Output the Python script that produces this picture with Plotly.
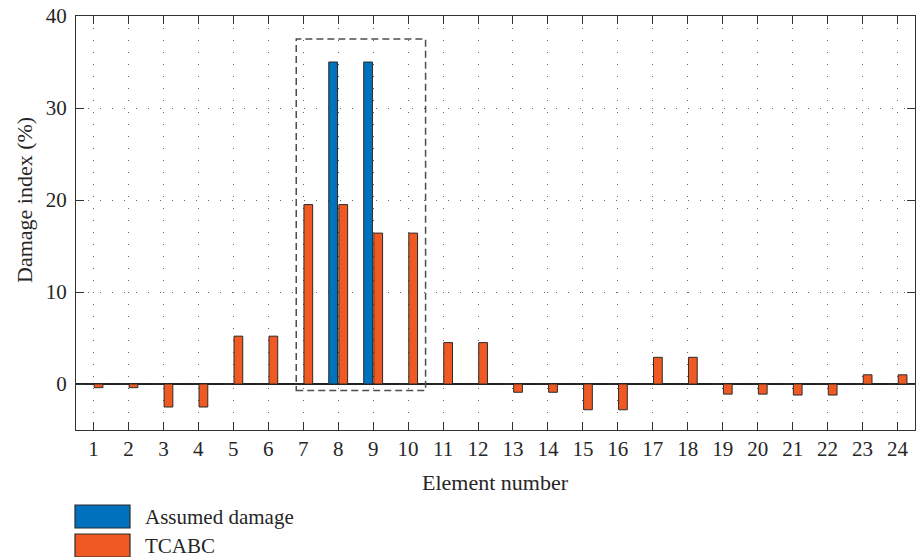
import plotly.graph_objects as go

# Element-wise damage indices (%)
elements = list(range(1, 25))
series_names = ["Assumed damage", "TCABC"]
assumed_damage = [0, 0, 0, 0, 0, 0, 0, 35, 35, 0, 0, 0,
                  0, 0, 0, 0, 0, 0, 0, 0, 0, 0, 0, 0]
tcabc = [-0.4, -0.4, -2.5, -2.5, 5.2, 5.2, 19.5, 19.5, 16.4, 16.4, 4.5, 4.5,
         -0.9, -0.9, -2.8, -2.8, 2.9, 2.9, -1.1, -1.1, -1.2, -1.2, 1.0, 1.0]
y_ticks = [0, 10, 20, 30, 40]

# Region of interest around the damaged elements
box_x = [6.8, 10.5]
box_y = [-0.7, 37.5]

colors = ["#0072BD", "#F05A22"]
font_family = "Liberation Serif, Times New Roman, serif"
text_color = "#262626"
edge = "#2b2b2b"

fig = go.Figure()
for name, vals, col, off in zip(series_names, [assumed_damage, tcabc], colors, [-0.27, 0.02]):
    fig.add_trace(go.Bar(
        x=elements, y=vals, name=name, width=0.25, offset=off,
        marker=dict(color=col, line=dict(color=edge, width=1)),
        showlegend=False,
    ))

# Dashed rectangle highlighting elements 7-10
fig.add_shape(type="rect", xref="x", yref="y",
              x0=box_x[0], x1=box_x[1], y0=box_y[0], y1=box_y[1],
              line=dict(color="#4d4d4d", width=1.5, dash="7px,4px"),
              fillcolor="rgba(0,0,0,0)", layer="above")

# Legend drawn below the axes with wide swatches
L, R, T, B = 76, 5, 16, 127
W, H = 920 - L - R, 557 - T - B
def px_x(p):
    return (p - L) / W
def px_y(p):
    return (557 - B - p) / H

swatch_rows = [(505, 528), (534, 557)]
for (top, bot), col, name in zip(swatch_rows, colors, series_names):
    fig.add_shape(type="rect", xref="paper", yref="paper",
                  x0=px_x(75), x1=px_x(130), y0=px_y(bot), y1=px_y(top),
                  fillcolor=col, line=dict(color=edge, width=1.2))
    fig.add_annotation(xref="paper", yref="paper", x=px_x(143), y=px_y((top + bot) / 2),
                       text=name, showarrow=False, xanchor="left", yanchor="middle",
                       font=dict(family=font_family, size=21, color=text_color))

# Axis titles
fig.add_annotation(xref="paper", yref="paper", x=0.5, y=px_y(482),
                   text="Element number", showarrow=False, xanchor="center", yanchor="middle",
                   font=dict(family=font_family, size=22, color=text_color))
fig.add_annotation(xref="paper", yref="y", x=px_x(24), y=20,
                   text="Damage index (%)", showarrow=False, textangle=-90,
                   xanchor="center", yanchor="middle",
                   font=dict(family=font_family, size=22, color=text_color))

axis_common = dict(
    showline=True, linecolor="#333333", linewidth=1.2, mirror="ticks",
    ticks="inside", ticklen=8, tickwidth=1, tickcolor="#333333",
    showgrid=True, gridcolor="#666666", gridwidth=1, griddash="1px,11px",
    tickfont=dict(family=font_family, size=21, color=text_color),
)

fig.update_xaxes(range=[0.5, 24.5], tickmode="array", tickvals=elements,
                 ticktext=[str(e) for e in elements], zeroline=False,
                 **axis_common)
fig.update_yaxes(range=[-5, 40], tickmode="array", tickvals=y_ticks,
                 ticktext=[str(t) for t in y_ticks],
                 zeroline=True, zerolinecolor="#222222", zerolinewidth=2,
                 ticklabelstandoff=4,
                 **axis_common)

fig.update_layout(
    width=920, height=557,
    margin=dict(l=L, r=R, t=T, b=B),
    barmode="overlay",
    plot_bgcolor="white", paper_bgcolor="white",
    font=dict(family=font_family, color=text_color),
)

fig.write_html("out.html")
